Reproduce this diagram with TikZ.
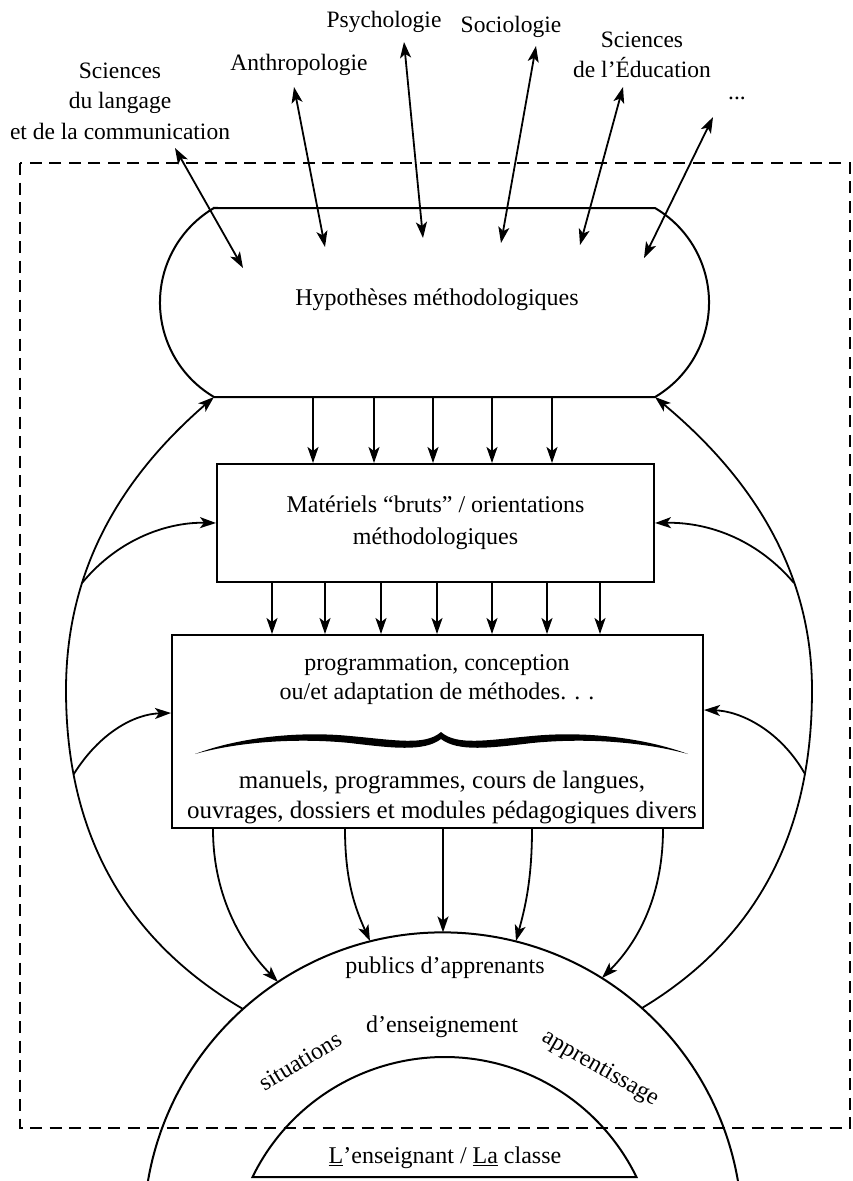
\documentclass[tikz,border=0pt]{standalone}
\usepackage{fontspec}
\setmainfont{Liberation Serif}
\usetikzlibrary{arrows.meta}
\begin{document}
\begin{tikzpicture}[x=1pt,y=-1pt,
  line width=1.8pt,
  tip/.style={-{Stealth[length=16pt,width=11pt,inset=4pt]}},
  dtip/.style={{Stealth[length=16pt,width=11pt,inset=4pt]}-{Stealth[length=16pt,width=11pt,inset=4pt]}},
  lbl/.style={font=\fontsize{23.5}{30.5}\selectfont, align=center, inner sep=0pt},
  txt/.style={font=\fontsize{24}{30}\selectfont, align=center, inner sep=0pt},
  shp/.style={line width=2pt},
  box/.style={draw, line width=2pt, inner sep=0pt}]
\useasboundingbox (0,0) rectangle (853,1181);

% dashed frame
\draw[line width=2.2pt, dash pattern=on 12pt off 7.5pt] (20,163) rectangle (850,1128);

% top labels
\node[lbl] (sl) at (120,101) {Sciences\\du langage\\et de la communication};
\node[lbl] (an) at (299,65) {Anthropologie};
\node[lbl] (ps) at (384,22) {Psychologie};
\node[lbl] (so) at (511,27) {Sociologie};
\node[lbl] (se) at (642,55) {Sciences\\de l’Éducation};
\node[lbl] (dd) at (737,98) {...};

% hypotheses shape
\draw[shp] (213,208) -- (655,208) arc[start angle=-59.5,end angle=59.5,radius=109.7]
  -- (214,397) arc[start angle=120.5,end angle=239.5,radius=109.7] -- cycle;
\node[txt] (hyp) at (437,300) {Hypothèses méthodologiques};
\coordinate (ovb) at (435,397);
\coordinate (ovbl) at (214,397);
\coordinate (ovbr) at (655,397);

% double arrows from disciplines
\coordinate (t1) at (175,148); \coordinate (h1) at (243,268);
\coordinate (t2) at (294,87);  \coordinate (h2) at (325,247);
\coordinate (t3) at (404,42);  \coordinate (h3) at (423,238);
\coordinate (t4) at (536,46);  \coordinate (h4) at (501,243);
\coordinate (t5) at (623,87);  \coordinate (h5) at (580,245);
\coordinate (t6) at (713,117); \coordinate (h6) at (644,258);
\foreach \i in {1,...,6} \draw[dtip] (t\i) -- (h\i);

% box 1
\node[box, minimum width=437pt, minimum height=118pt, txt, font=\fontsize{24}{32}\selectfont] (b1) at (435.5,523)
  {Matériels “bruts” / orientations\\méthodologiques};
\foreach \x in {313,374,433,492,552} \draw[tip] (\x,0 |- ovb) -- (\x,0 |- b1.north);

% box 2
\node[box, minimum width=531pt, minimum height=193pt] (b2) at (437.5,731.5) {};
\foreach \x in {272,325,381,437,492,547,600} \draw[tip] (\x,0 |- b1.south) -- (\x,0 |- b2.north);
\node[txt, font=\fontsize{24}{29}\selectfont] (b2a) at (437,680) {programmation, conception\\ou/et adaptation de méthodes. . .};
\node[txt, font=\fontsize{25}{30}\selectfont] (b2b) at (442,798) {manuels, programmes, cours de langues,\\ouvrages, dossiers et modules pédagogiques divers};
% brace
\fill (195,754) .. controls (240,737) and (300,731) .. (350,736)
  .. controls (395,740) and (425,746) .. (441,732)
  .. controls (457,746) and (487,740) .. (532,736)
  .. controls (582,731) and (642,737) .. (688,754)
  .. controls (640,741) and (582,738) .. (532,743)
  .. controls (490,748) and (458,752) .. (441,739)
  .. controls (424,752) and (392,748) .. (350,743)
  .. controls (300,738) and (242,741) .. (195,754) -- cycle;

% outer half circle and inner arc
\draw[shp] (144.8,1205.6) arc[start angle=185,end angle=355,radius=299.3];
\draw[shp] (252.5,1177) arc[start angle=206,end angle=334,radius=213.6] -- cycle;

\coordinate (c1) at (278,982);
\coordinate (c2) at (370,941);
\coordinate (c3) at (443,932.4);
\coordinate (c4) at (516,941);
\coordinate (c5) at (602,978);
\coordinate (lj) at (243,1009);
\coordinate (rj) at (642,1008);

% arrows from box 2 to the publics
\draw[tip] (213,0 |- b2.south) .. controls (213,900) and (245,948) .. (c1);
\draw[tip] (345,0 |- b2.south) .. controls (345,880) and (355,908) .. (c2);
\draw[tip] (443,0 |- b2.south) -- (c3);
\draw[tip] (532,0 |- b2.south) .. controls (532,880) and (525,908) .. (c4);
\draw[tip] (663,0 |- b2.south) .. controls (663,900) and (635,945) .. (c5);

% outer feedback curves
\draw[tip] (lj) .. controls (100,925) and (66,800) .. (66,690) .. controls (66,560) and (130,470) .. (ovbl);
\draw[tip] (rj) .. controls (780,925) and (812,800) .. (812,690) .. controls (812,560) and (740,468) .. (ovbr);
\coordinate (la1) at (82,583);
\coordinate (la2) at (73.5,774.5);
\coordinate (ra1) at (794,583);
\coordinate (ra2) at (805,774);
\draw[tip] (la1) .. controls (120,537) and (170,522) .. (b1.west);
\draw[tip] (la2) .. controls (100,732) and (135,714) .. (b2.west |- 0,713);
\draw[tip] (ra1) .. controls (755,537) and (705,522) .. (b1.east);
\draw[tip] (ra2) .. controls (780,730) and (740,711) .. (b2.east |- 0,710);

% texts in the half circle
\node[txt] (pub) at (445,968) {publics d’apprenants};
\node[txt] (ens) at (442,1027) {d’enseignement};
\node[txt, rotate=31] (sit) at (300,1061) {situations};
\node[txt, rotate=-30] (app) at (600,1069) {apprentissage};
\node[txt] (cls) at (445,1158) {\underline{L}’enseignant / \underline{La} classe};
\end{tikzpicture}
\end{document}
